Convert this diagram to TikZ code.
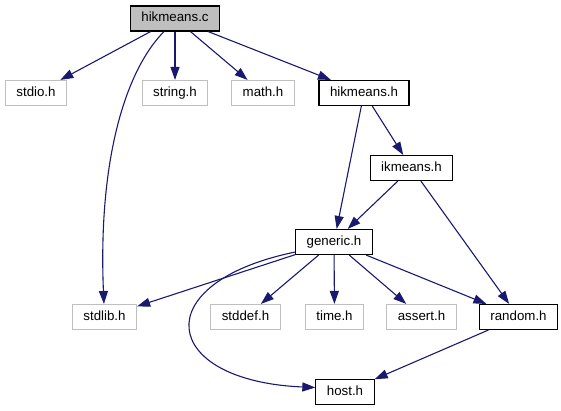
\documentclass[tikz,border=0pt]{standalone}
\usepackage{fontspec}
\setmainfont{Liberation Sans}
\usepackage{tikz}
\usetikzlibrary{arrows.meta}
\definecolor{edgeblue}{RGB}{25,25,112}
\definecolor{boxgray}{RGB}{191,191,191}
\tikzset{
  sysfile/.style={rectangle,draw=boxgray,fill=white,line width=1.1pt,inner xsep=11pt,inner ysep=0pt,minimum height=25pt,text height=10pt,text depth=3pt},
  projfile/.style={sysfile,draw=black},
  rootfile/.style={projfile,fill=boxgray},
  depedge/.style={-{Triangle[length=13pt,width=9pt]},draw=edgeblue,line width=1.1pt}
}
\begin{document}
\begin{tikzpicture}[x=1pt,y=1pt,font=\fontsize{13.3}{16}\selectfont]
  \useasboundingbox (0,0) rectangle (561,411);
  \node[rootfile] (hikc) at (175,392.5) {hikmeans.c};
  \node[sysfile] (stdio) at (36,318) {stdio.h};
  \node[sysfile] (string) at (175,318) {string.h};
  \node[sysfile] (math) at (263,318) {math.h};
  \node[projfile] (hikh) at (364,318) {hikmeans.h};
  \node[projfile] (ikh) at (411.5,243) {ikmeans.h};
  \node[projfile] (generic) at (334,169) {generic.h};
  \node[sysfile] (stdlib) at (104.5,94) {stdlib.h};
  \node[sysfile] (stddef) at (245.5,94) {stddef.h};
  \node[sysfile] (time) at (334.5,94) {time.h};
  \node[sysfile] (assert) at (421.5,94) {assert.h};
  \node[projfile] (random) at (518.5,94) {random.h};
  \node[projfile] (host) at (345,19) {host.h};

  \draw[depedge] (hikc) -- (stdio);
  \draw[depedge] (hikc) -- (string);
  \draw[depedge] (hikc) -- (math);
  \draw[depedge] (hikc) -- (hikh);
  \draw[depedge] ([xshift=-11pt]hikc.south) .. controls (125,340) and (98,250) .. (stdlib);
  \draw[depedge] (hikh) -- (ikh);
  \draw[depedge] (hikh) -- (generic);
  \draw[depedge] (ikh) -- (generic);
  \draw[depedge] (ikh) -- (random);
  \draw[depedge] (generic) -- (stdlib);
  \draw[depedge] (generic) -- (stddef);
  \draw[depedge] (generic) -- (time);
  \draw[depedge] (generic) -- (assert);
  \draw[depedge] (generic) -- (random);
  \draw[depedge] ([yshift=3pt]generic.south west) .. controls (145,128) and (160,30) .. ([yshift=4.5pt]host.west);
  \draw[depedge] (random) -- (host);
\end{tikzpicture}
\end{document}
